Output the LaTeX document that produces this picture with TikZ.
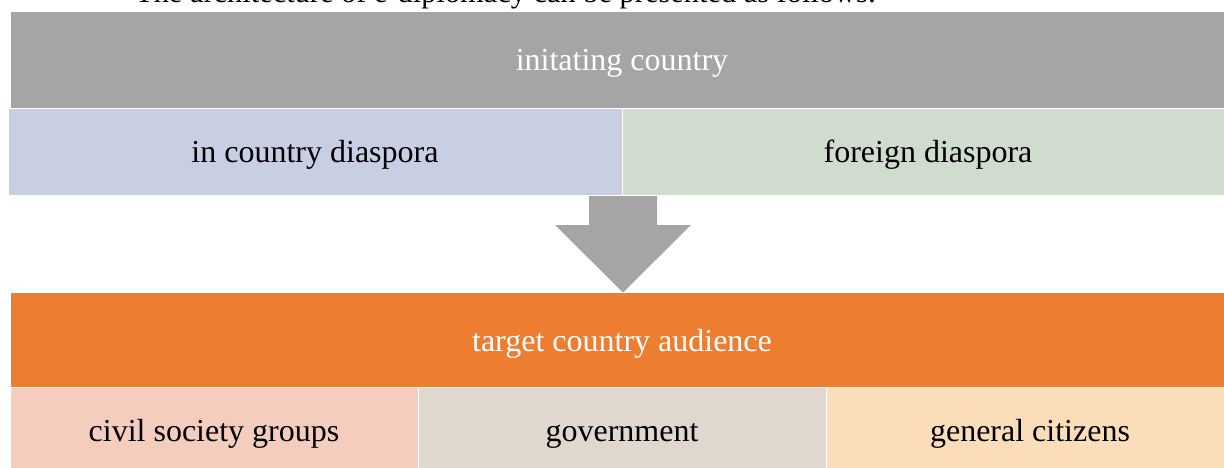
\documentclass[tikz,border=0pt]{standalone}
\usepackage{fontspec}
\setmainfont{Liberation Serif}
\definecolor{cgray}{HTML}{A5A5A5}
\definecolor{cblue}{HTML}{C9CFE3}
\definecolor{cgreen}{HTML}{D0DDCE}
\definecolor{corange}{HTML}{ED7D31}
\definecolor{cpink}{HTML}{F5CDBF}
\definecolor{ctaupe}{HTML}{E0D7CE}
\definecolor{cpeach}{HTML}{FCDDBA}
\tikzset{
  cell/.style={rectangle, anchor=north west, inner sep=0pt, outer sep=0pt,
    draw=white, line width=1pt, text height=21pt, text depth=0pt,
    font=\fontsize{32}{38}\selectfont},
  wtext/.style={text=white},
}
\begin{document}
\begin{tikzpicture}[x=1pt,y=-1pt]
\useasboundingbox (0,0) rectangle (1224,468);
\clip (0,0) rectangle (1224,468);
\node[anchor=base west, inner sep=0pt, font=\fontsize{30.4}{36}\selectfont] (cap) at (135,3) {The architecture of e-diplomacy can be presented as follows:};
% top block
\node[cell, fill=cgray, wtext, minimum width=1224pt, minimum height=97pt] (init) at (10,11.5) {initating country};
\node[cell, fill=cblue, minimum width=614pt, minimum height=87pt] (incd) at (8,108.5) {in country diaspora};
\node[cell, fill=cgreen, minimum width=612pt, minimum height=87pt] (ford) at (622,108.5) {foreign diaspora};
% bottom block
\node[cell, fill=corange, wtext, minimum width=1224pt, minimum height=95pt, text height=23pt] (tca) at (10,292.5) {target country audience};
\node[cell, fill=cpink, minimum width=408pt, minimum height=87pt] (csg) at (10,387.5) {civil society groups};
\node[cell, fill=ctaupe, minimum width=408pt, minimum height=87pt] (gov) at (418,387.5) {government};
\node[cell, fill=cpeach, minimum width=408pt, minimum height=87pt] (gen) at (826,387.5) {general citizens};
% arrow
\coordinate (atop) at (623,196);
\coordinate (atip) at (tca.north -| atop);
\fill[cgray] ([xshift=-34pt]atop) -- ([xshift=34pt]atop) -- (657,225) -- (691,225) -- (atip) -- (555,225) -- (589,225) -- cycle;
\end{tikzpicture}
\end{document}
